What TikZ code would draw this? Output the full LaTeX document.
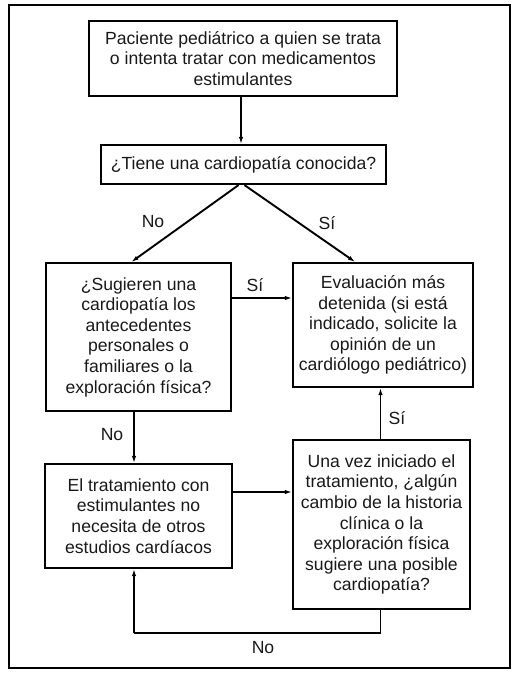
\documentclass[tikz,border=0pt]{standalone}
\usepackage{fontspec}
\setmainfont{Liberation Sans}
\usetikzlibrary{arrows.meta,calc}
\begin{document}
\begin{tikzpicture}[x=1pt,y=-1pt,
  box/.style={draw=black,line width=2.2pt,align=center,inner sep=0pt,
    font=\fontsize{17.6}{20.6}\selectfont,text=black!90},
  arr/.style={line width=1.9pt,-{Latex[length=7pt,width=4.5pt]}},
  lnk/.style={line width=1.9pt},
  lbl/.style={font=\fontsize{17.6}{20.6}\selectfont,text=black!90,inner sep=0pt}]
\useasboundingbox (0,0) rectangle (518,674);
\draw[line width=1.3pt] (9,5) rectangle (510,668);
\node[box,minimum width=308pt,minimum height=75pt] (b1) at (243,58.5)
  {Paciente pediátrico a quien se trata\\o intenta tratar con medicamentos\\estimulantes};
\node[box,minimum width=285pt,minimum height=39pt] (b2) at (243.5,164.5)
  {¿Tiene una cardiopatía conocida?};
\node[box,minimum width=185pt,minimum height=148pt] (b3) at (138.5,337)
  {¿Sugieren una\\cardiopatía los\\antecedentes\\personales o\\familiares o la\\exploración física?};
\node[box,minimum width=180pt,minimum height=124pt] (b4) at (383,325)
  {Evaluación más\\detenida (si está\\indicado, solicite la\\opinión de un\\cardiólogo pediátrico)};
\node[box,minimum width=187pt,minimum height=104pt] (b5) at (138.5,516)
  {El tratamiento con\\estimulantes no\\necesita de otros\\estudios cardíacos};
\node[box,minimum width=177pt,minimum height=169pt] (b6) at (381.5,524.5)
  {Una vez iniciado el\\tratamiento, ¿algún\\cambio de la historia\\clínica o la\\exploración física\\sugiere una posible\\cardiopatía?};
\coordinate (y1) at (0,298);
\coordinate (x1) at (134,0);
\coordinate (y2) at (0,492);
\coordinate (x2) at (380.5,0);
\coordinate (c1) at (380.5,633);
\coordinate (c2) at (134,633);
\draw[arr] (b1.south -| 241,0) -- (b2.north -| 241,0);
\draw[arr] ($(b2.south)+(-5,0)$) -- ($(b3.north)+(-7,0)$);
\draw[arr] ($(b2.south)+(1,0)$) -- ($(b4.north)+(-28,0)$);
\draw[arr] (b3.east |- y1) -- (b4.west |- y1);
\draw[arr] (b3.south -| x1) -- (b5.north -| x1);
\draw[arr] (b5.east |- y2) -- (b6.west |- y2);
\draw[arr] (b6.north -| x2) -- (b4.south -| x2);
\draw[lnk] (b6.south -| x2) -- (c1) -- (c2);
\draw[arr] (c2) -- (b5.south -| x1);
\node[lbl] (l1) at (153,222) {No};
\node[lbl] (l2) at (327,223) {Sí};
\node[lbl] (l3) at (255,285) {Sí};
\node[lbl] (l4) at (112,435) {No};
\node[lbl] (l5) at (397,418) {Sí};
\node[lbl] (l6) at (263,648) {No};
\end{tikzpicture}
\end{document}
